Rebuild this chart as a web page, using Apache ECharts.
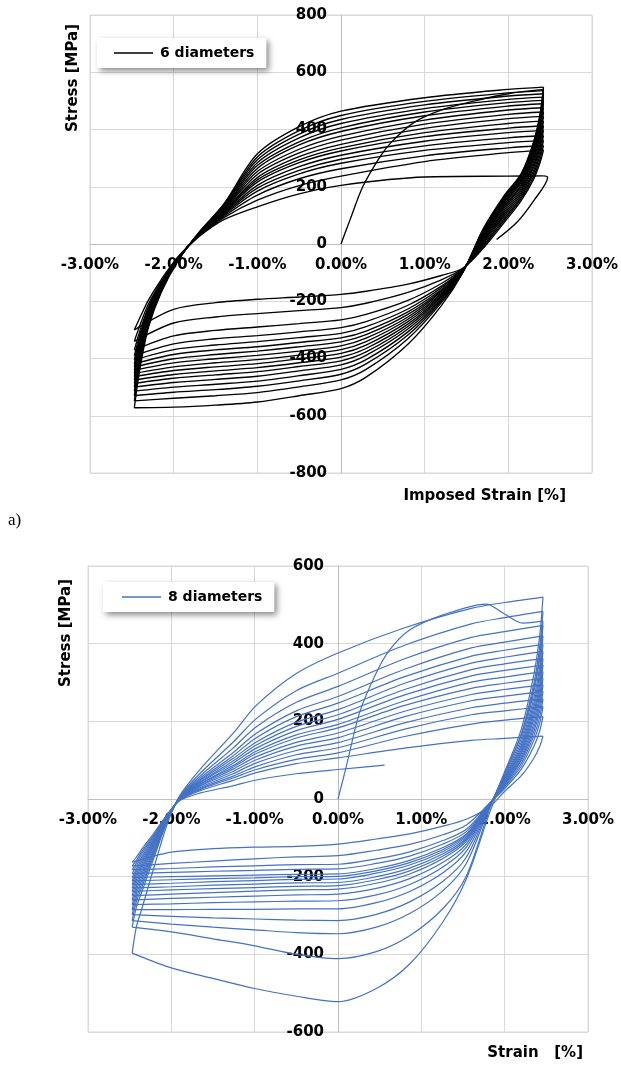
<!DOCTYPE html>
<html><head><meta charset="utf-8">
<script src="https://cdn.jsdelivr.net/npm/echarts@6/dist/echarts.min.js"></script>
<style>html,body{margin:0;padding:0;background:#fff}#c{width:621px;height:1066px}</style>
</head><body><div id="c"></div><script>
// ---------- tick labels ----------
const xTickLabels = ['-3.00%','-2.00%','-1.00%','0.00%','1.00%','2.00%','3.00%'];

// ---------- chart a) 6 diameters ----------
const initStrain6 = [0, 0.11, 0.26, 0.47, 0.6, 0.87, 1.22, 1.6, 2.0, 2.42];
const initStress6 = [0, 86, 200, 306, 355, 424, 470, 500, 525, 540];

const strainDn6 = [2.42, 2.38, 2.3, 2.15, 1.95, 1.7, 1.46, 1.2, 0.8, 0.3, 0, -0.5, -1.0, -1.5, -2.0, -2.47];
const stressDn6 = [
 [540,450,350,240,165,50,-98,-215,-350,-465,-505,-530,-552,-563,-570,-572],
 [548,455,355,244,169,53,-97,-205,-331,-438,-475,-499,-519,-530,-539,-548],
 [536,447,348,238,163,49,-96,-199,-318,-419,-455,-478,-497,-509,-518,-530],
 [525,438,341,234,159,45,-95,-194,-307,-404,-438,-460,-479,-490,-500,-514],
 [513,429,334,229,154,42,-94,-189,-297,-389,-422,-443,-462,-473,-484,-500],
 [502,420,328,224,149,38,-93,-184,-288,-377,-408,-428,-446,-457,-469,-487],
 [490,411,320,219,144,35,-92,-180,-280,-365,-395,-415,-432,-443,-456,-475],
 [476,400,312,213,138,30,-91,-176,-271,-353,-382,-401,-418,-429,-442,-463],
 [461,388,303,206,131,26,-90,-172,-263,-341,-369,-388,-404,-415,-429,-452],
 [446,377,295,200,125,21,-89,-167,-255,-329,-356,-374,-389,-401,-415,-441],
 [429,364,285,193,118,16,-88,-163,-246,-317,-342,-359,-374,-386,-401,-430],
 [413,351,275,186,111,11,-88,-159,-237,-304,-328,-344,-359,-370,-386,-418],
 [397,339,266,179,104,6,-87,-153,-227,-289,-312,-327,-341,-353,-369,-405],
 [379,325,255,172,97,1,-87,-147,-214,-271,-292,-307,-320,-331,-349,-390],
 [362,311,245,164,89,-5,-86,-138,-197,-246,-265,-278,-290,-302,-321,-370],
 [344,297,234,157,82,-10,-85,-125,-169,-207,-222,-233,-243,-255,-276,-340],
 [328,285,225,150,75,-15,-84,-110,-140,-165,-176,-185,-193,-205,-228,-300]
];

const strainUp6 = [-2.47, -2.4, -2.3, -2.15, -1.95, -1.7, -1.4, -1.0, -0.5, 0, 1.0, 2.0, 2.42];
const stressUp6 = [
 [-572,-430,-290,-170,-60,40,140,315,410,464,511,540,548],
 [-548,-415,-282,-166,-59,39,137,304,396,449,498,528,536],
 [-530,-403,-275,-163,-58,38,134,294,384,435,486,517,525],
 [-514,-393,-270,-160,-57,38,131,284,371,421,473,505,513],
 [-500,-384,-265,-158,-56,37,128,274,357,406,461,494,502],
 [-487,-375,-260,-156,-55,36,125,264,346,393,448,482,490],
 [-475,-368,-256,-154,-55,35,122,253,331,377,433,468,476],
 [-463,-360,-252,-152,-54,34,119,243,318,363,419,453,461],
 [-452,-353,-248,-150,-53,33,115,232,305,348,404,438,446],
 [-441,-346,-244,-148,-53,33,113,224,294,336,389,421,429],
 [-430,-339,-240,-147,-52,32,110,216,284,325,375,405,413],
 [-418,-331,-236,-145,-52,31,107,205,270,310,359,389,397],
 [-405,-323,-232,-142,-51,30,104,195,257,296,343,371,379],
 [-390,-313,-226,-140,-50,29,101,185,245,282,327,354,362],
 [-370,-300,-219,-137,-49,28,97,171,228,263,308,336,344],
 [-340,-281,-209,-132,-47,27,92,153,204,237,288,319,328],
 [-300,-255,-195,-125,-45,25,85,130,175,205,234,237,238]
];
const finalStrain6 = [2.42, 2.47, 2.3, 2.1, 1.86];
const finalStress6 = [238, 233, 150, 75, 16];

// ---------- chart b) 8 diameters ----------
const initStrain8 = [0, 0.1, 0.26, 0.46, 0.62, 0.86, 1.26, 1.78, 1.98, 2.22, 2.46];
const initStress8 = [0, 84, 223, 325, 384, 435, 474, 502, 479, 453, 458];

const strainDn8 = [2.46, 2.42, 2.35, 2.2, 2.0, 1.82, 1.54, 1.26, 0.86, 0.46, 0, -0.5, -1.0, -1.5, -2.0, -2.47];
const stressDn8 = [
 [458,370,285,165,65,-35,-206,-316,-425,-488,-522,-508,-488,-462,-435,-397],
 [520,420,320,180,70,-25,-198,-282,-352,-393,-411,-400,-378,-360,-342,-330],
 [483,391,298,168,65,-20,-166,-236,-295,-330,-347,-344,-337,-330,-322,-313],
 [447,362,276,156,60,-18,-150,-212,-265,-297,-313,-312,-309,-306,-302,-298],
 [420,340,260,147,56,-17,-135,-190,-238,-267,-283,-283,-284,-284,-285,-285],
 [398,323,247,139,53,-16,-124,-175,-220,-247,-262,-263,-265,-267,-270,-272],
 [380,309,236,133,50,-15,-116,-163,-205,-230,-245,-247,-250,-253,-256,-260],
 [362,294,225,127,48,-15,-109,-153,-193,-217,-232,-234,-237,-241,-245,-249],
 [345,281,215,121,46,-14,-105,-147,-185,-208,-223,-225,-228,-231,-234,-238],
 [328,267,205,116,43,-14,-101,-141,-178,-200,-215,-216,-219,-222,-226,-229],
 [311,254,194,110,41,-13,-97,-135,-170,-191,-206,-207,-210,-213,-217,-220],
 [294,240,184,104,38,-13,-93,-130,-164,-185,-199,-200,-203,-205,-208,-211],
 [277,226,174,99,36,-12,-90,-125,-158,-179,-193,-194,-196,-198,-200,-202],
 [258,211,163,92,33,-12,-84,-116,-147,-166,-180,-181,-184,-186,-189,-192],
 [238,195,151,85,31,-11,-78,-107,-136,-154,-168,-169,-172,-175,-179,-182],
 [212,175,135,77,27,-11,-67,-92,-117,-132,-146,-149,-154,-160,-166,-173],
 [162,135,105,60,20,-20,-52,-70,-90,-103,-116,-122,-124,-128,-137,-163]
];

const strainUp8 = [-2.47, -2.42, -2.35, -2.2, -2.05, -1.9, -1.66, -1.26, -0.98, -0.5, 0, 0.8, 1.6, 2.0, 2.46];
const stressUp8 = [
 [-397,-330,-280,-170,-65,8,75,169,241,323,376,441,491,506,520],
 [-330,-279,-237,-146,-58,6,65,146,207,279,324,396,451,467,483],
 [-313,-265,-225,-139,-56,5,58,131,186,249,290,361,416,431,447],
 [-298,-254,-216,-134,-54,4,53,119,169,227,264,334,389,404,420],
 [-285,-244,-207,-129,-53,3,49,111,158,212,247,315,368,383,398],
 [-272,-234,-199,-125,-52,2,46,104,147,198,230,298,350,365,380],
 [-260,-225,-191,-120,-50,2,43,98,139,187,217,282,333,348,362],
 [-249,-216,-184,-116,-49,1,41,92,131,176,205,268,317,331,345],
 [-238,-208,-177,-112,-48,0,38,86,123,165,192,253,301,314,328],
 [-229,-201,-171,-109,-47,0,37,82,117,157,183,241,285,298,311],
 [-220,-194,-165,-106,-46,-1,34,77,109,146,170,226,269,282,294],
 [-211,-187,-159,-102,-45,-1,32,71,101,136,158,212,253,265,277],
 [-202,-180,-153,-99,-44,-2,29,65,93,125,145,196,235,247,258],
 [-192,-172,-147,-96,-43,-2,26,59,84,114,132,180,217,227,238],
 [-182,-165,-140,-92,-42,-3,24,54,76,102,119,161,193,203,212],
 [-173,-158,-134,-89,-41,-3,21,48,68,91,106,131,151,156,162]
];
const lastUpStrain8 = [-2.47, -2.42, -2.35, -2.2, -2.05, -1.9, -1.66, -1.26, -0.98, -0.5, 0, 0.56];
const lastUpStress8 = [-163, -150, -128, -85, -40, -4, 15, 34, 49, 65, 76, 87];

// ---------- build ----------
const F = 'DejaVu Sans';
function pairs(xs, ys){ return xs.map((x,i)=>[x, ys[i]]); }
const series = [];
function add(name, color, idx, data, w){
  series.push({type:'line', name, xAxisIndex:idx, yAxisIndex:idx, data,
    symbol:'none', showSymbol:false, smooth:0.3, animation:false, silent:true,
    lineStyle:{color, width:w}, itemStyle:{color}});
}
const N6 = '6 diameters', C6 = '#000000', W6 = 1.35;
add(N6, C6, 0, pairs(initStrain6, initStress6), W6);
for (let i=0;i<stressDn6.length;i++){
  add(N6, C6, 0, pairs(strainDn6, stressDn6[i]), W6);
  add(N6, C6, 0, pairs(strainUp6, stressUp6[i]), W6);
}
add(N6, C6, 0, pairs(finalStrain6, finalStress6), W6);

const N8 = '8 diameters', C8 = '#4472C4', W8 = 1.2;
add(N8, C8, 1, pairs(initStrain8, initStress8), W8);
for (let i=0;i<stressDn8.length;i++){
  add(N8, C8, 1, pairs(strainDn8, stressDn8[i]), W8);
  if (i < stressUp8.length) add(N8, C8, 1, pairs(strainUp8, stressUp8[i]), W8);
}
add(N8, C8, 1, pairs(lastUpStrain8, lastUpStress8), W8);

const labelStyle = {fontFamily:F, fontWeight:'bold', fontSize:15, color:'#000'};
function xAx(idx, off){
  return {type:'value', gridIndex:idx, min:-3, max:3, interval:1, position:'bottom', offset:off,
    axisLine:{show:true, onZero:false, lineStyle:{color:'#bfbfbf', width:1}},
    axisTick:{show:false},
    axisLabel:Object.assign({margin:14, formatter:v=>xTickLabels[Math.round(v+3)]}, labelStyle),
    splitLine:{show:true, lineStyle:{color:'#d9d9d9', width:1}}};
}
function yAx(idx, lim, off){
  return {type:'value', gridIndex:idx, min:-lim, max:lim, interval:200, position:'left', offset:off,
    axisLine:{show:true, onZero:false, lineStyle:{color:'#bfbfbf', width:1}},
    axisTick:{show:false},
    axisLabel:Object.assign({margin:14}, labelStyle),
    splitLine:{show:true, lineStyle:{color:'#d9d9d9', width:1}}};
}
function legend(name, left, top, padL){
  return {data:[name], left, top, orient:'horizontal', icon:'rect', itemWidth:39, itemHeight:1.4,
    padding:[8, 12, 8, padL], backgroundColor:'#fff', selectedMode:false,
    shadowBlur:6, shadowColor:'rgba(0,0,0,0.45)', shadowOffsetX:3, shadowOffsetY:3,
    textStyle:{fontFamily:F, fontWeight:'bold', fontSize:14, color:'#000', padding:[0,0,0,2]}};
}
function txt(text, x, y, opt){
  return Object.assign({type:'text', x, y, silent:true,
    style:{text, fill:'#000', font:'bold 15px "DejaVu Sans"', align:'center', verticalAlign:'middle'}}, opt||{});
}

const option = {
  backgroundColor:'#fff',
  animation:false,
  grid:[
    {left:90, top:15, width:502, height:458, show:true, borderColor:'#d9d9d9', borderWidth:1},
    {left:88, top:566, width:500, height:466, show:true, borderColor:'#d9d9d9', borderWidth:1}
  ],
  xAxis:[xAx(0, -229), xAx(1, -233)],
  yAxis:[yAx(0, 800, -251), yAx(1, 600, -250)],
  legend:[legend(N6, 97, 38, 17), legend(N8, 103, 582, 19)],
  series,
  graphic:[
    txt('Stress [MPa]', 73, 78, {rotation:Math.PI/2}),
    txt('Stress [MPa]', 66, 633, {rotation:Math.PI/2}),
    {type:'text', x:566, y:496, silent:true, style:{text:'Imposed Strain [%]', fill:'#000', font:'bold 15px "DejaVu Sans"', align:'right', verticalAlign:'middle'}},
    {type:'text', x:583, y:1053, silent:true, style:{text:'Strain   [%]', fill:'#000', font:'bold 15px "DejaVu Sans"', align:'right', verticalAlign:'middle'}},
    {type:'text', x:8, y:521, silent:true, style:{text:'a)', fill:'#000', font:'17px "Liberation Serif"', align:'left', verticalAlign:'middle'}}
  ]
};
const chart = echarts.init(document.getElementById('c'), null, {renderer:'canvas'});
chart.setOption(option);
</script></body></html>
